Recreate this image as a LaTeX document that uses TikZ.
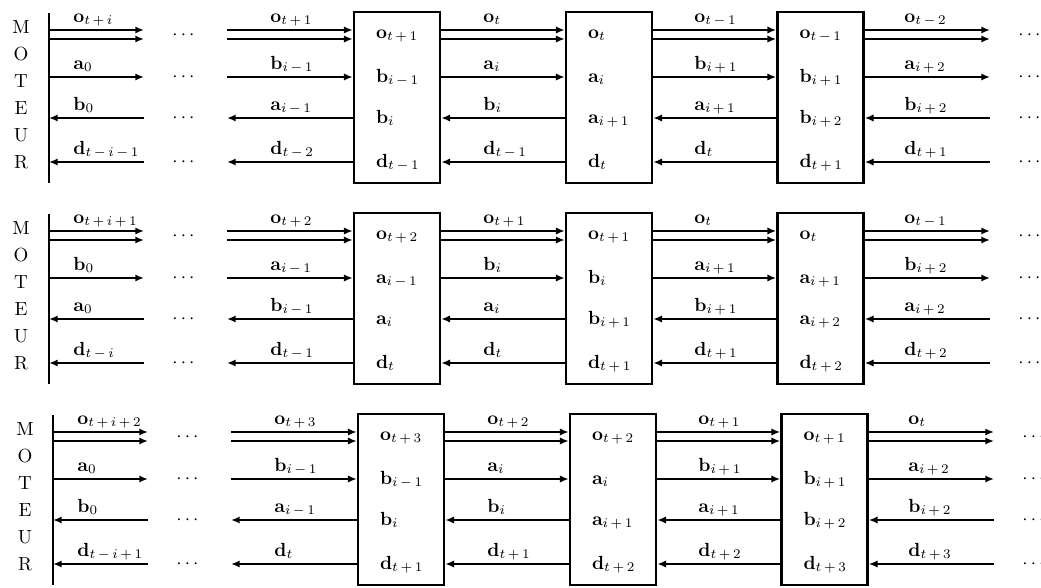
\documentclass[tikz,border=0pt]{standalone}
\usepackage{amsmath}
\usetikzlibrary{arrows.meta}
\newcommand{\vv}[2]{\mathbf{#1}_{#2}}
\newcommand{\pls}{\mskip3mu{+}\mskip3mu}
\newcommand{\mns}{\mskip3mu{-}\mskip3mu}
\begin{document}
\begin{tikzpicture}[x=0.5263pt, y=-0.5263pt, >={Latex[length=4.6pt,width=3.8pt]},
    box/.style={draw, line width=1.3pt, minimum width=45.3pt, minimum height=90pt, inner sep=0pt},
    fw/.style={->, line width=1.1pt},
    fwb/.style={->, line width=1.35pt},
    bw/.style={<-, line width=1.1pt},
    bar/.style={line width=1.3pt},
    lab/.style={anchor=base west, inner sep=0pt},
    dots/.style={anchor=base, inner sep=0pt}]
    \useasboundingbox (0,0) rectangle (1041,587);
    % three chains, same frame
    \foreach \r/\dx/\dy in {1/0/0, 2/0/201, 3/4/402}{
        \draw[bar] (49+\dx,13+\dy) coordinate (top\r) -- (49+\dx,183+\dy) coordinate (bar\r);
        \foreach \c [count=\k] in {M,O,T,E,U,R}
            \node[inner sep=0pt] (mot\r\k) at (21+\dx,27*\k+\dy) {\c};
        \coordinate (le\r) at (144+\dx,\dy);
        \coordinate (rs\r) at (227+\dx,\dy);
        \coordinate (re\r) at (990+\dx,\dy);
        \node[box] (B\r1) at (397+\dx,97.5+\dy) {};
        \node[box] (B\r2) at (609+\dx,97.5+\dy) {};
        \node[box] (B\r3) at (820.5+\dx,97.5+\dy) {};
        \coordinate (o\r) at (0,30+\dy);
        \coordinate (p\r) at (0,39+\dy);
        \coordinate (a\r) at (0,77+\dy);
        \coordinate (b\r) at (0,118+\dy);
        \coordinate (d\r) at (0,162+\dy);
        \foreach \s/\e in {bar\r/le\r, rs\r/B\r1.west, B\r1.east/B\r2.west, B\r2.east/B\r3.west, B\r3.east/re\r}{
            \draw[fw] (\s |- o\r) -- (\e |- o\r);
            \draw[fw] (\s |- p\r) -- (\e |- p\r);
            \draw[fwb] (\s |- a\r) -- (\e |- a\r);
            \draw[bw] (\s |- b\r) -- (\e |- b\r);
            \draw[bw] (\s |- d\r) -- (\e |- d\r);
        }
        \foreach \y [count=\k] in {34.5,77,118,162}{
            \node[dots] (dl\r\k) at (185+\dx,\y+4.75+\dy) {$\cdots$};
            \node[dots] (dr\r\k) at (1031+\dx,\y+4.75+\dy) {$\cdots$};
        }
    }
    % row 1
    \foreach \x/\la/\lb/\lc/\ld [count=\k] in {
        73/{\vv o{t\pls i}}/{\vv a0}/{\vv b0}/{\vv d{t\mns i\mns 1}},
        270/{\vv o{t\pls 1}}/{\vv b{i\mns 1}}/{\vv a{i\mns 1}}/{\vv d{t\mns 2}},
        483/{\vv o{t}}/{\vv a{i}}/{\vv b{i}}/{\vv d{t\mns 1}},
        694/{\vv o{t\mns 1}}/{\vv b{i\pls 1}}/{\vv a{i\pls 1}}/{\vv d{t}},
        904/{\vv o{t\mns 2}}/{\vv a{i\pls 2}}/{\vv b{i\pls 2}}/{\vv d{t\pls 1}}}{
        \node[lab] (s1\k-1) at (\x,22) {$\la$};
        \node[lab] (s1\k-2) at (\x,69) {$\lb$};
        \node[lab] (s1\k-3) at (\x,110) {$\lc$};
        \node[lab] (s1\k-4) at (\x,154) {$\ld$};
    }
    \foreach \la/\lb/\lc/\ld [count=\k] in {
        {\vv o{t\pls 1}}/{\vv b{i\mns 1}}/{\vv b{i}}/{\vv d{t\mns 1}},
        {\vv o{t}}/{\vv a{i}}/{\vv a{i\pls 1}}/{\vv d{t}},
        {\vv o{t\mns 1}}/{\vv b{i\pls 1}}/{\vv b{i\pls 2}}/{\vv d{t\pls 1}}}{
        \node[lab, xshift=12.1pt] (e1\k-1) at (B1\k.west |- 0,38) {$\la$};
        \node[lab, xshift=12.1pt] (e1\k-2) at (B1\k.west |- 0,82) {$\lb$};
        \node[lab, xshift=12.1pt] (e1\k-3) at (B1\k.west |- 0,123) {$\lc$};
        \node[lab, xshift=12.1pt] (e1\k-4) at (B1\k.west |- 0,167) {$\ld$};
    }
    % row 2
    \begin{scope}[shift={(0,201)}]
    \foreach \x/\la/\lb/\lc/\ld [count=\k] in {
        73/{\vv o{t\pls i\pls 1}}/{\vv b0}/{\vv a0}/{\vv d{t\mns i}},
        270/{\vv o{t\pls 2}}/{\vv a{i\mns 1}}/{\vv b{i\mns 1}}/{\vv d{t\mns 1}},
        483/{\vv o{t\pls 1}}/{\vv b{i}}/{\vv a{i}}/{\vv d{t}},
        694/{\vv o{t}}/{\vv a{i\pls 1}}/{\vv b{i\pls 1}}/{\vv d{t\pls 1}},
        904/{\vv o{t\mns 1}}/{\vv b{i\pls 2}}/{\vv a{i\pls 2}}/{\vv d{t\pls 2}}}{
        \node[lab] (s2\k-1) at (\x,22) {$\la$};
        \node[lab] (s2\k-2) at (\x,69) {$\lb$};
        \node[lab] (s2\k-3) at (\x,110) {$\lc$};
        \node[lab] (s2\k-4) at (\x,154) {$\ld$};
    }
    \foreach \la/\lb/\lc/\ld [count=\k] in {
        {\vv o{t\pls 2}}/{\vv a{i\mns 1}}/{\vv a{i}}/{\vv d{t}},
        {\vv o{t\pls 1}}/{\vv b{i}}/{\vv b{i\pls 1}}/{\vv d{t\pls 1}},
        {\vv o{t}}/{\vv a{i\pls 1}}/{\vv a{i\pls 2}}/{\vv d{t\pls 2}}}{
        \node[lab, xshift=12.1pt] (e2\k-1) at (B2\k.west |- 0,38) {$\la$};
        \node[lab, xshift=12.1pt] (e2\k-2) at (B2\k.west |- 0,82) {$\lb$};
        \node[lab, xshift=12.1pt] (e2\k-3) at (B2\k.west |- 0,123) {$\lc$};
        \node[lab, xshift=12.1pt] (e2\k-4) at (B2\k.west |- 0,167) {$\ld$};
    }
    \end{scope}
    % row 3
    \begin{scope}[shift={(4,402)}]
    \foreach \x/\la/\lb/\lc/\ld [count=\k] in {
        73/{\vv o{t\pls i\pls 2}}/{\vv a0}/{\vv b0}/{\vv d{t\mns i\pls 1}},
        270/{\vv o{t\pls 3}}/{\vv b{i\mns 1}}/{\vv a{i\mns 1}}/{\vv d{t}},
        483/{\vv o{t\pls 2}}/{\vv a{i}}/{\vv b{i}}/{\vv d{t\pls 1}},
        694/{\vv o{t\pls 1}}/{\vv b{i\pls 1}}/{\vv a{i\pls 1}}/{\vv d{t\pls 2}},
        904/{\vv o{t}}/{\vv a{i\pls 2}}/{\vv b{i\pls 2}}/{\vv d{t\pls 3}}}{
        \node[lab] (s3\k-1) at (\x,22) {$\la$};
        \node[lab] (s3\k-2) at (\x,69) {$\lb$};
        \node[lab] (s3\k-3) at (\x,110) {$\lc$};
        \node[lab] (s3\k-4) at (\x,154) {$\ld$};
    }
    \foreach \la/\lb/\lc/\ld [count=\k] in {
        {\vv o{t\pls 3}}/{\vv b{i\mns 1}}/{\vv b{i}}/{\vv d{t\pls 1}},
        {\vv o{t\pls 2}}/{\vv a{i}}/{\vv a{i\pls 1}}/{\vv d{t\pls 2}},
        {\vv o{t\pls 1}}/{\vv b{i\pls 1}}/{\vv b{i\pls 2}}/{\vv d{t\pls 3}}}{
        \node[lab, xshift=12.1pt] (e3\k-1) at (B3\k.west |- 0,38) {$\la$};
        \node[lab, xshift=12.1pt] (e3\k-2) at (B3\k.west |- 0,82) {$\lb$};
        \node[lab, xshift=12.1pt] (e3\k-3) at (B3\k.west |- 0,123) {$\lc$};
        \node[lab, xshift=12.1pt] (e3\k-4) at (B3\k.west |- 0,167) {$\ld$};
    }
    \end{scope}
\end{tikzpicture}
\end{document}
